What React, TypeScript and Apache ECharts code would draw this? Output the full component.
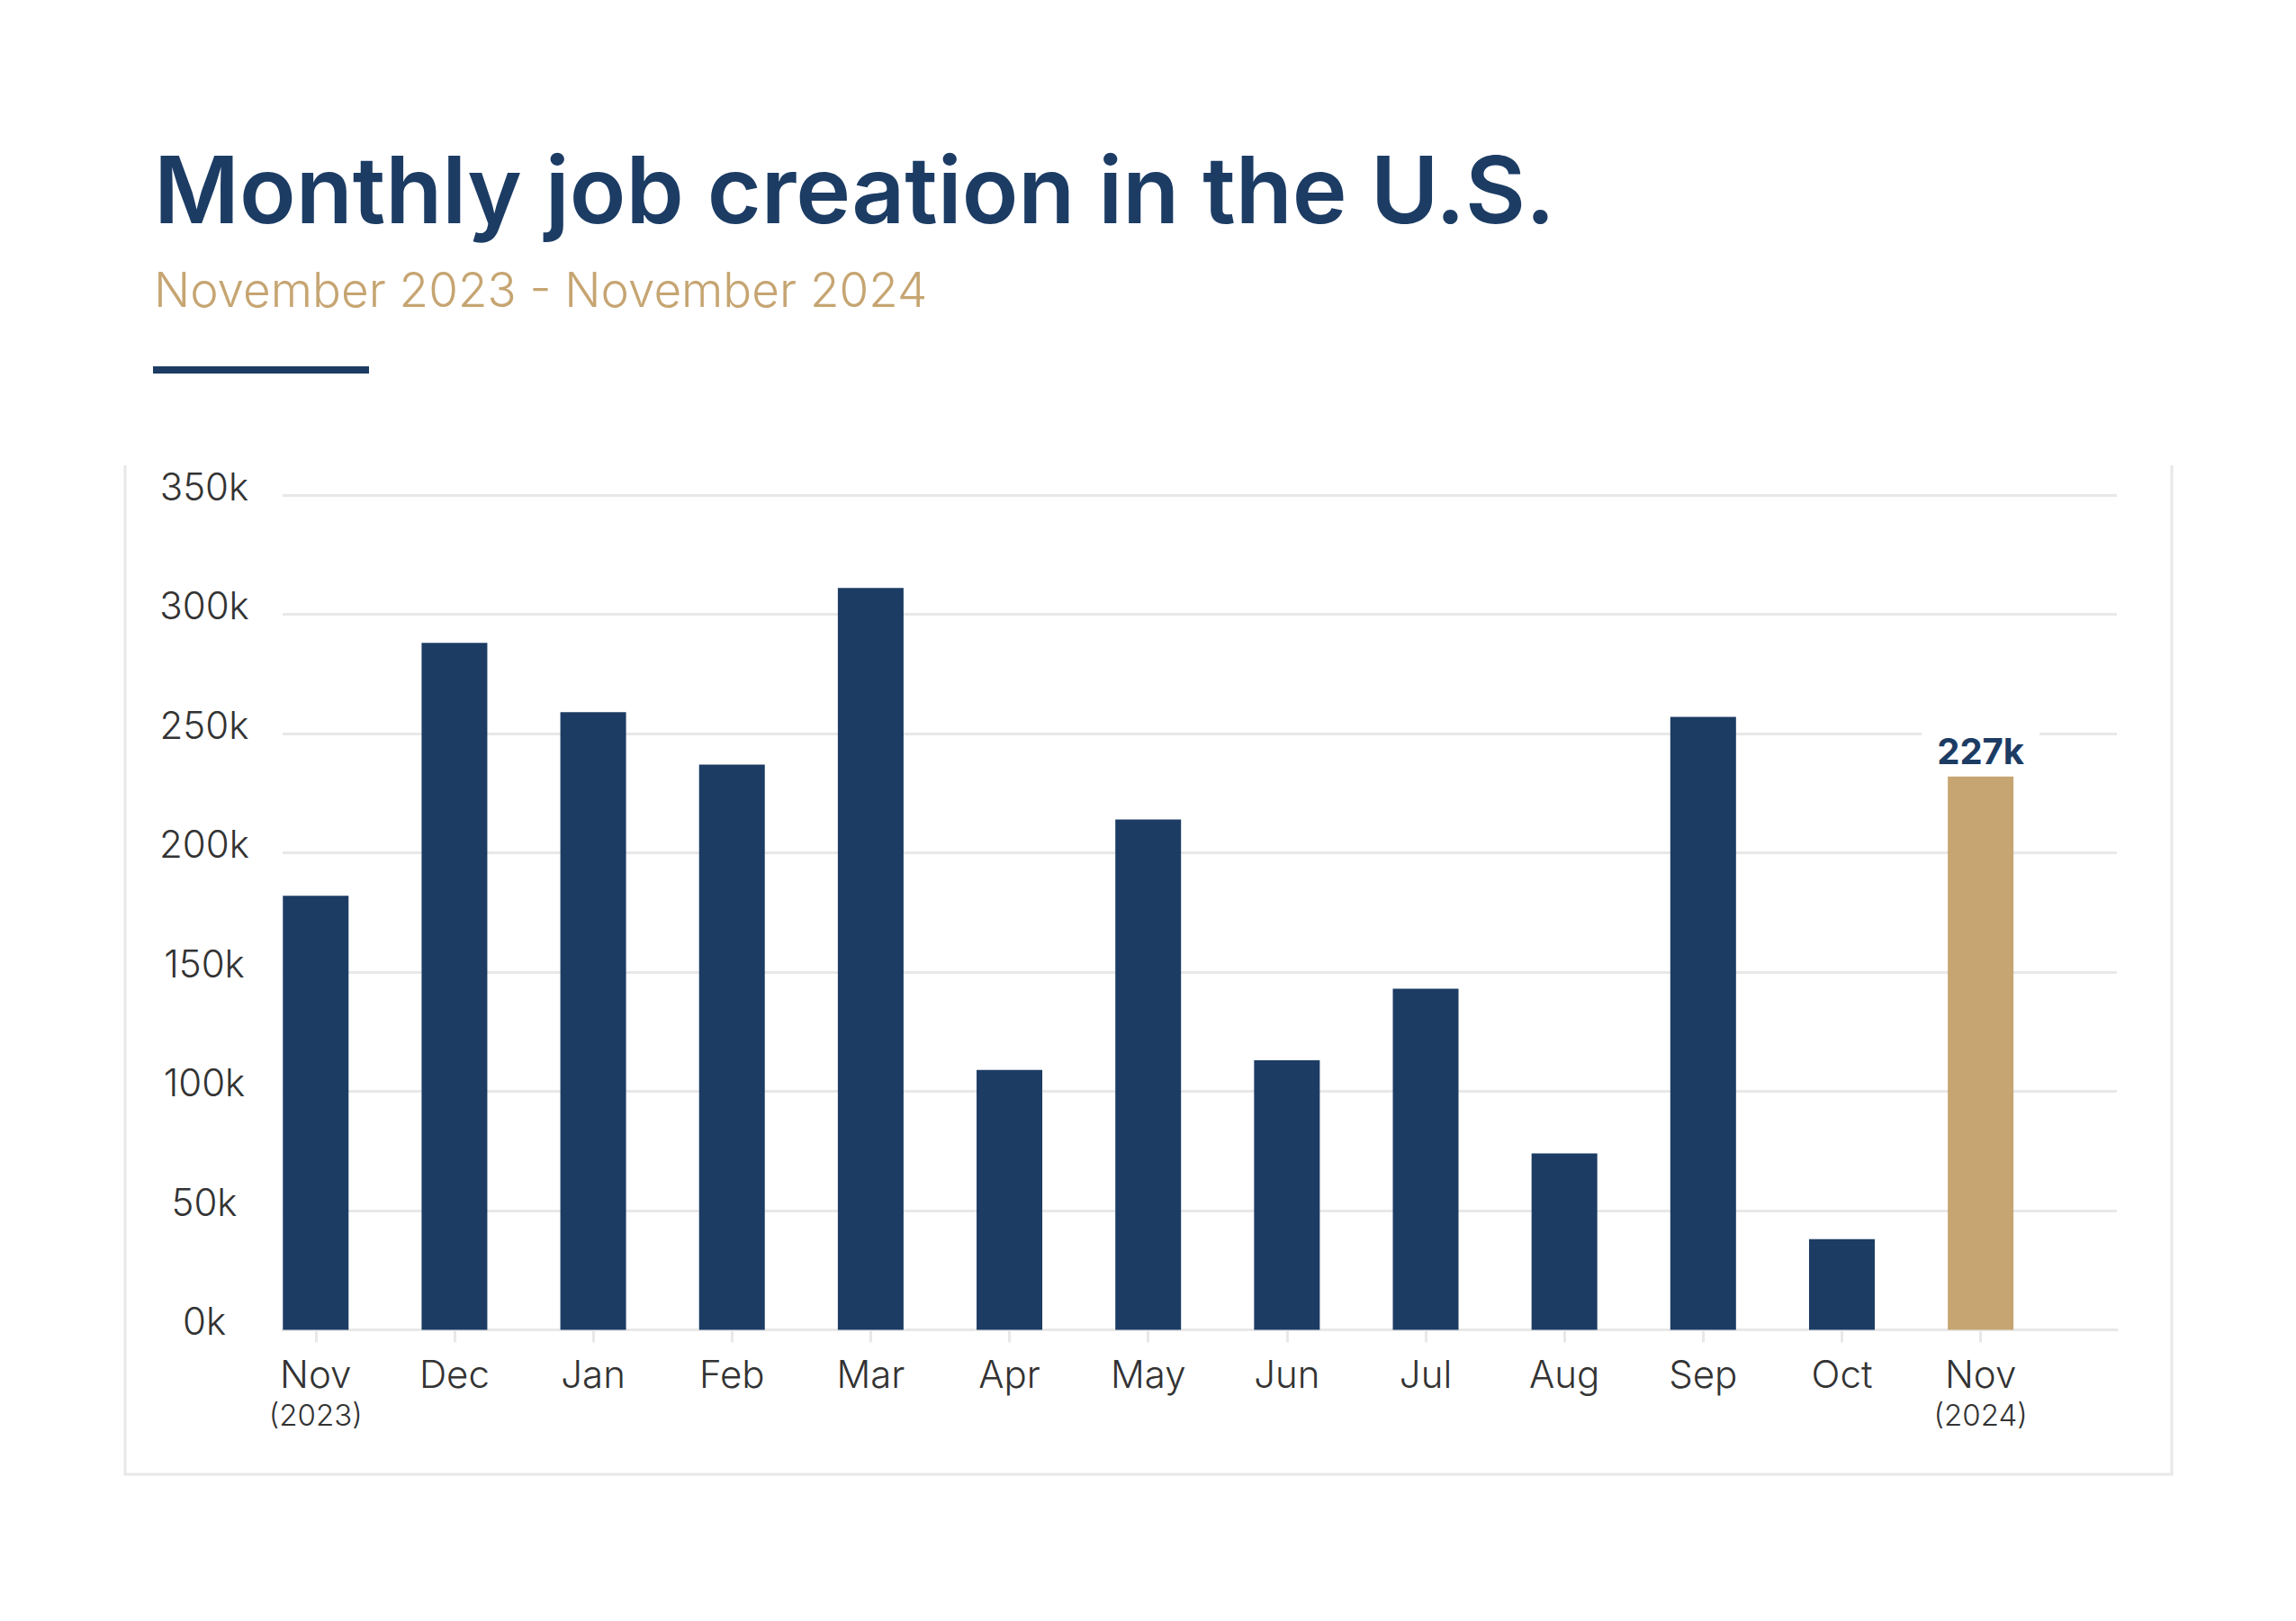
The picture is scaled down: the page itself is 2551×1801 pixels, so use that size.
import React, { useEffect, useRef } from "react";
import * as echarts from "echarts";

const TITLE = "Monthly job creation in the U.S.";
const SUBTITLE = "November 2023 - November 2024";
const months = ["Nov", "Dec", "Jan", "Feb", "Mar", "Apr", "May", "Jun", "Jul", "Aug", "Sep", "Oct", "Nov"];
const years = ["2023", "", "", "", "", "", "", "", "", "", "", "", "2024"];
const jobs = [182000, 288000, 259000, 237000, 311000, 109000, 214000, 113000, 143000, 74000, 257000, 38000, 232000];
const highlightIndex = 12;
const highlightLabel = "227k";
const yMin = 0;
const yMax = 350000;
const yStep = 50000;

const NAVY = "#1c3c64";
const GOLD = "#c6a572";
const GRID = "#e8e8e8";
const TEXT = "#333333";
const FONT = "Inter, 'Noto Sans', sans-serif";

export default function App() {
  const ref = useRef<HTMLDivElement>(null);
  useEffect(() => {
    if (!ref.current) return;
    const chart = echarts.init(ref.current, null, { renderer: "svg" });
    const option: any = {
      animation: false,
      backgroundColor: "#ffffff",
      graphic: [
        {
          type: "text",
          x: 171,
          y: 210,
          style: { text: TITLE, fill: NAVY, font: `600 103px ${FONT}`, verticalAlign: "middle", align: "left" },
        },
        {
          type: "text",
          x: 171,
          y: 322,
          style: { text: SUBTITLE, fill: GOLD, font: `300 53px ${FONT}`, verticalAlign: "middle", align: "left" },
        },
        {
          type: "rect",
          shape: { x: 170, y: 407, width: 240, height: 8 },
          style: { fill: NAVY },
        },
        {
          type: "polyline",
          shape: { points: [[139, 517], [139, 1638], [2413, 1638], [2413, 517]] },
          style: { stroke: GRID, lineWidth: 3, fill: null },
        },
      ],
      grid: [
        { left: 273.7, top: 550, width: 2004, height: 927.5 },
        { left: 314, top: 550, width: 2038, height: 927.5 },
      ],
      xAxis: [
        {
          type: "category",
          gridIndex: 0,
          data: months,
          offset: 3,
          axisLine: { show: false },
          axisTick: { show: true, alignWithLabel: true, length: 14, lineStyle: { color: GRID, width: 3 } },
          axisLabel: {
            margin: 22,
            interval: 0,
            formatter: (v: string, i: number) => (years[i] ? `{m|${v}}\n{y|(${years[i]})}` : `{m|${v}}`),
            rich: {
              m: { fontSize: 42, fontFamily: FONT, fontWeight: 300, color: TEXT, lineHeight: 48 },
              y: { fontSize: 33, fontFamily: FONT, fontWeight: 300, color: TEXT, lineHeight: 42 },
            },
          },
          splitLine: { show: false },
        },
        {
          type: "value",
          gridIndex: 1,
          min: 0,
          max: 1,
          axisLine: { show: true, lineStyle: { color: GRID, width: 3 } },
          axisTick: { show: false },
          axisLabel: { show: false },
          splitLine: { show: false },
        },
      ],
      yAxis: [
        {
          type: "value",
          gridIndex: 0,
          min: yMin,
          max: yMax,
          interval: yStep,
          show: false,
          splitLine: { show: false },
        },
        {
          type: "value",
          gridIndex: 1,
          min: yMin,
          max: yMax,
          interval: yStep,
          axisLine: { show: false },
          axisTick: { show: false },
          splitLine: { show: true, lineStyle: { color: GRID, width: 3 } },
          axisLabel: {
            align: "center",
            verticalAlign: "bottom",
            lineHeight: 20,
            margin: 87,
            fontSize: 42,
            fontFamily: FONT,
            fontWeight: 300,
            color: TEXT,
            formatter: (v: number) => `${v / 1000}k`,
          },
        },
      ],
      series: [
        {
          type: "bar",
          xAxisIndex: 0,
          yAxisIndex: 0,
          barWidth: 73,
          itemStyle: { color: NAVY },
          data: jobs.map((v, i) =>
            i === highlightIndex
              ? {
                  value: v,
                  itemStyle: { color: GOLD },
                  label: {
                    show: true,
                    position: "top",
                    distance: 4,
                    formatter: highlightLabel,
                    color: NAVY,
                    fontSize: 40,
                    fontWeight: 700,
                    fontFamily: FONT,
                    backgroundColor: "#ffffff",
                    padding: [6, 17, 4, 17],
                  },
                }
              : v
          ),
        },
      ],
    };
    chart.setOption(option);
    return () => chart.dispose();
  }, []);
  return (
    <div
      ref={ref}
      style={{ position: "fixed", left: 0, top: 0, width: "2551px", height: "1801px", background: "#fff" }}
    />
  );
}
